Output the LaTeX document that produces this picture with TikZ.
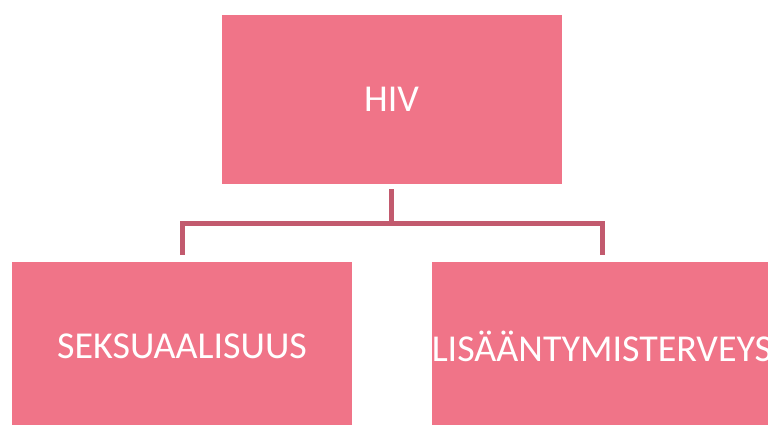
\documentclass[tikz,border=0pt]{standalone}
\usepackage{fontspec}
\setmainfont{Carlito}
\usepackage{tikz}
\usetikzlibrary{positioning}

\definecolor{boxpink}{HTML}{F07488}
\definecolor{linkrose}{HTML}{C25A6E}

\tikzset{
    topic/.style={fill=boxpink, text=white, minimum width=340pt, minimum height=169pt,
        inner sep=0pt, font=\fontsize{38}{46}\selectfont},
    link/.style={draw=linkrose, line width=5pt}
}

\begin{document}
\begin{tikzpicture}[x=1pt, y=1pt]
    % Frame of the picture
        \useasboundingbox (0,0) rectangle (768,-425);
        \clip (0,0) rectangle (768,-425);
        % Boxes
        \node[topic] (hiv) at (391.5,-99.5) {HIV};
        \node[topic] (seks) at (182,-346) {SEKSUAALISUUS};
        \node[topic] (lisa) at (602,-346) {LIS\"A\"ANTYMISTERVEYS};
        % Draw connectors
        \coordinate (fork) at ([yshift=-39pt]hiv.south);
        \draw[link] ([yshift=-5pt]hiv.south) -- (fork);
        \draw[link] (fork) -| ([yshift=6pt]seks.north);
        \draw[link] (fork) -| ([yshift=6pt]lisa.north);
    \end{tikzpicture}
\end{document}
